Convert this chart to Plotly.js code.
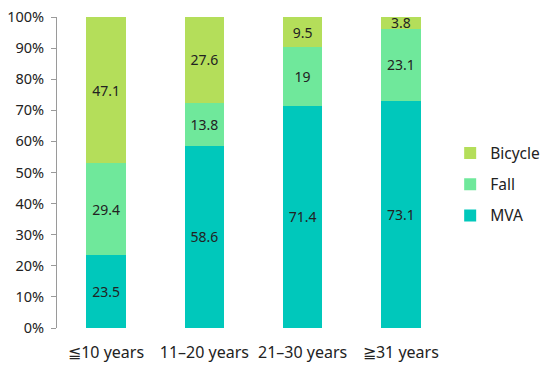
<!DOCTYPE html>
<html>
<head>
<meta charset="utf-8">
<script src="https://cdn.plot.ly/plotly-3.0.1.min.js"></script>
<style>html,body{margin:0;padding:0;background:#fff;}#chart{width:550px;height:369px;}</style>
</head>
<body>
<div id="chart"></div>
<script>
const categories = ["≦10 years", "11–20 years", "21–30 years", "≧31 years"];
const mva = [23.5, 58.6, 71.4, 73.1];
const fall = [29.4, 13.8, 19, 23.1];
const bicycle = [47.1, 27.6, 9.5, 3.8];
const yTickVals = [0, 10, 20, 30, 40, 50, 60, 70, 80, 90, 100];
const yTickText = ["0%", "10%", "20%", "30%", "40%", "50%", "60%", "70%", "80%", "90%", "100%"];

const FONT = "'Noto Sans', 'Open Sans', sans-serif";
function mk(name, vals, color, rank) {
  return {
    type: 'bar', name: name, x: categories, y: vals,
    marker: {color: color},
    text: vals.map(v => String(v)),
    textposition: 'inside', insidetextanchor: 'middle',
    textangle: 0, constraintext: 'none',
    textfont: {family: FONT, size: 14, color: '#222'},
    legendgroup: name, legendrank: rank, hoverinfo: 'x+y+name'
  };
}
const data = [
  mk('MVA', mva, '#00c8bb', 3),
  mk('Fall', fall, '#6fe89b', 2),
  mk('Bicycle', bicycle, '#b4de5a', 1)
];
const layout = {
  width: 550, height: 369,
  margin: {l: 57, r: 100, t: 17, b: 41},
  barmode: 'stack', bargap: 0.6,
  paper_bgcolor: '#fff', plot_bgcolor: '#fff',
  font: {family: FONT, size: 14, color: '#222'},
  showlegend: true,
  legend: {xref: 'container', yref: 'container', x: 0.8185, y: 0.5, xanchor: 'left', yanchor: 'middle',
    traceorder: 'grouped', tracegroupgap: 8,
    font: {family: FONT, size: 15.5, color: '#222'}, itemwidth: 30, borderwidth: 0},
  xaxis: {showgrid: false, zeroline: false, showline: false, ticks: '',
    tickfont: {family: FONT, size: 16, color: '#222'}, ticklabelstandoff: 13, fixedrange: true},
  yaxis: {range: [0, 100], showgrid: false, zeroline: false,
    showline: true, linecolor: '#9a9a9a', linewidth: 1,
    ticks: 'outside', ticklen: 5, tickcolor: '#9a9a9a',
    tickvals: yTickVals, ticktext: yTickText,
    tickfont: {family: FONT, size: 14.5, color: '#222'}, ticklabelstandoff: 4, fixedrange: true}
};
Plotly.newPlot('chart', data, layout, {displayModeBar: false, staticPlot: true});
</script>
</body>
</html>
